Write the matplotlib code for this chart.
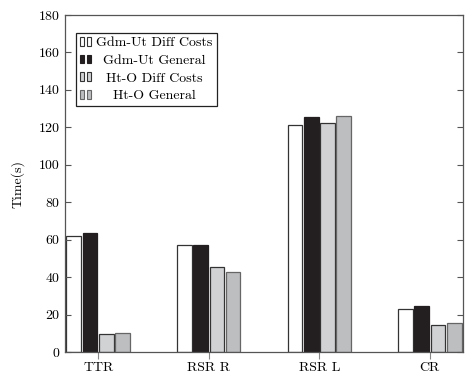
import numpy as np
import matplotlib
matplotlib.use('Agg')
import matplotlib.pyplot as plt
from matplotlib.patches import Rectangle
from matplotlib.legend_handler import HandlerBase
from matplotlib.container import BarContainer

# Data
categories = ['TTR', 'RSR R', 'RSR L', 'CR']
series_names = ['Gdm-Ut Diff Costs', 'Gdm-Ut General', 'Ht-O Diff Costs', 'Ht-O General']
gdm_diff = [62, 57, 121, 23]
gdm_general = [63.5, 57, 125.5, 24.5]
hto_diff = [9.5, 45.5, 122.5, 14.5]
hto_general = [10, 43, 126, 15.5]
y_ticks = [0, 20, 40, 60, 80, 100, 120, 140, 160, 180]

faces = ['#ffffff', '#231f20', '#d1d2d4', '#bcbec0']
edges = ['#333333', '#231f20', '#333333', '#666666']

plt.rcParams['font.family'] = ['cmr10', 'DejaVu Serif']
plt.rcParams['axes.unicode_minus'] = False
plt.rcParams['mathtext.fontset'] = 'cm'


class PairHandler(HandlerBase):
    # two little bars, like the pgfplots ybar legend
    def create_artists(self, legend, orig_handle, xdescent, ydescent,
                       width, height, fontsize, trans):
        p = orig_handle.patches[0]
        w = width * 0.36
        arts = []
        for x0 in [0, width * 0.62]:
            r = Rectangle((x0 - xdescent, -ydescent), w, height,
                          facecolor=p.get_facecolor(), edgecolor=p.get_edgecolor(),
                          linewidth=0.8, transform=trans)
            arts.append(r)
        return arts


fig = plt.figure(figsize=(4.65, 3.76), dpi=100)
ax = fig.add_axes([0.1398, 0.0638, 0.8559, 0.8963])

x = np.arange(len(categories))
step = 0.147
bw = 0.133
handles = []
for i, vals in enumerate([gdm_diff, gdm_general, hto_diff, hto_general]):
    b = ax.bar(x + (i - 1.5) * step, vals, width=bw, color=faces[i],
               edgecolor=edges[i], linewidth=0.9, label=series_names[i])
    handles.append(b)

ax.set_xlim(-0.3, 3.3)
ax.set_ylim(0, 180)
ax.set_xticks(x)
ax.set_xticklabels(categories)
ax.set_yticks(y_ticks)
ax.set_ylabel('Time(s)', fontsize=10, labelpad=10)

for s in ax.spines.values():
    s.set_color('#555555')
    s.set_linewidth(0.9)
ax.tick_params(axis='y', direction='in', left=True, right=True, length=4,
               color='#555555', labelsize=10, pad=4)
ax.tick_params(axis='x', direction='out', bottom=True, top=False, length=5,
               color='#888888', labelsize=10, pad=2)

leg = ax.legend(handles=handles, labels=series_names, loc='upper left',
                bbox_to_anchor=(0.028, 0.947), fontsize=10, frameon=True,
                fancybox=False, edgecolor='#222222', framealpha=1,
                handlelength=0.8, handleheight=0.6, handletextpad=0.35,
                labelspacing=0.38, borderpad=0.3, borderaxespad=0,
                handler_map={BarContainer: PairHandler()})
leg.get_frame().set_linewidth(0.9)

# center the labels as in the reference
fig.canvas.draw()
r = fig.canvas.get_renderer()
texts = leg.get_texts()
widths = [t.get_window_extent(r).width for t in texts]
mw = max(widths)
for t, w in zip(texts, widths):
    t.set_x((mw - w) / 2)

fig.savefig('out.png', dpi=100)
